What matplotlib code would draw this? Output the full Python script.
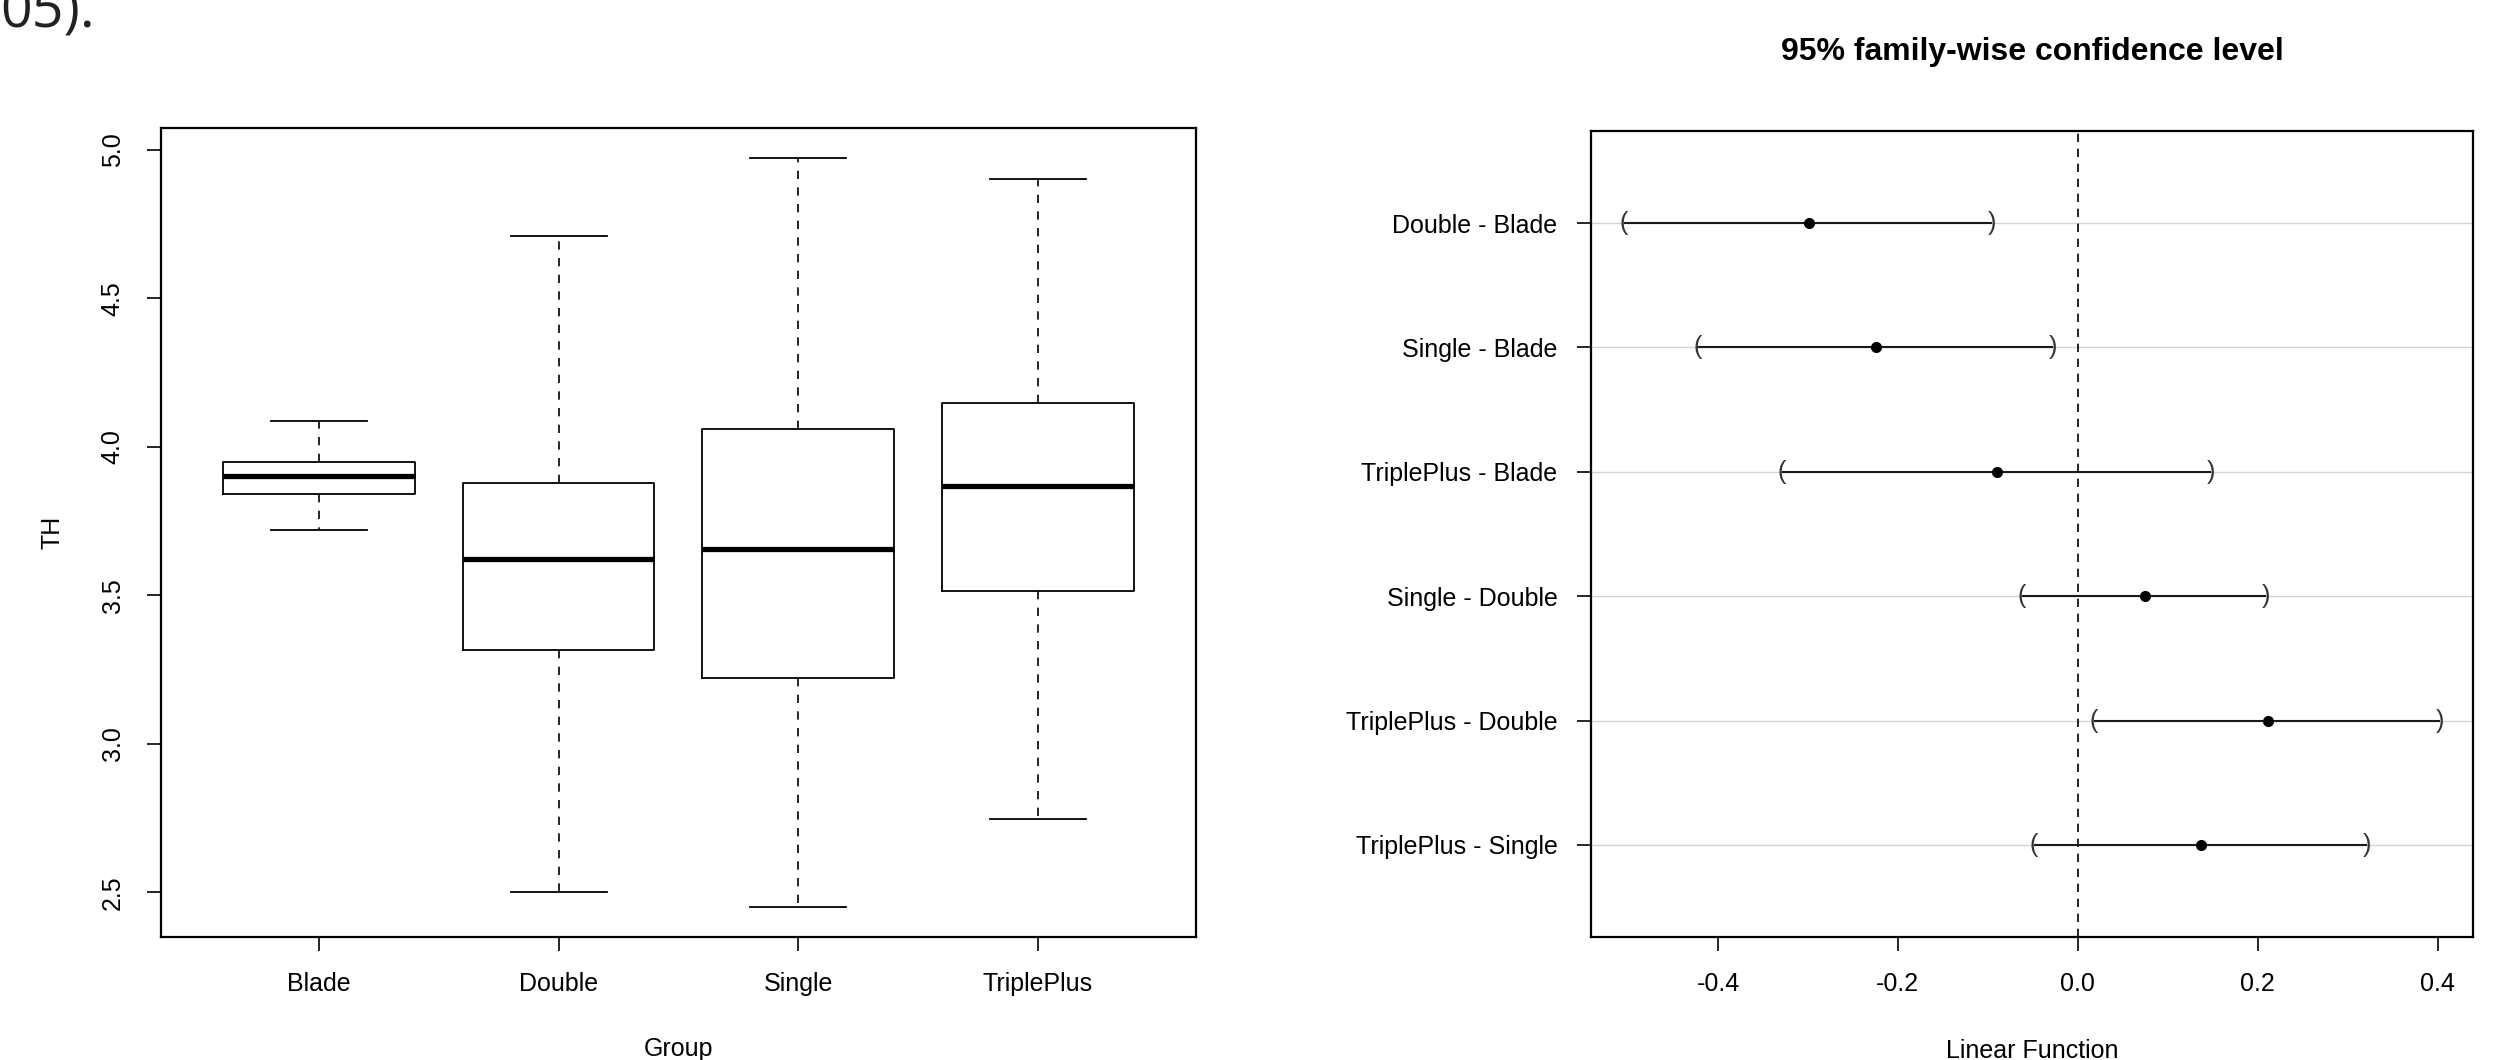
import matplotlib.pyplot as plt
import matplotlib.transforms as mtransforms
import numpy as np

plt.rcParams['font.family'] = ['Liberation Sans', 'DejaVu Sans']
plt.rcParams['axes.unicode_minus'] = False

# boxplot of TH by group
groups = ['Blade', 'Double', 'Single', 'TriplePlus']
whisker_low = [3.72, 2.50, 2.45, 2.745]
box_low = [3.84, 3.316, 3.222, 3.514]
medians = [3.90, 3.622, 3.657, 3.868]
box_high = [3.947, 3.877, 4.061, 4.147]
whisker_high = [4.085, 4.709, 4.972, 4.900]
th_ticks = [2.5, 3.0, 3.5, 4.0, 4.5, 5.0]
th_labels = ['2.5', '3.0', '3.5', '4.0', '4.5', '5.0']

# Tukey HSD intervals
comparisons = ['Double - Blade', 'Single - Blade', 'TriplePlus - Blade',
               'Single - Double', 'TriplePlus - Double', 'TriplePlus - Single']
diff = [-0.299, -0.224, -0.090, 0.075, 0.211, 0.137]
lwr = [-0.505, -0.423, -0.329, -0.062, 0.018, -0.049]
upr = [-0.095, -0.028, 0.148, 0.209, 0.403, 0.321]
lf_ticks = [-0.4, -0.2, 0.0, 0.2, 0.4]
lf_labels = ['-0.4', '-0.2', '0.0', '0.2', '0.4']

fig = plt.figure(figsize=(25.03, 10.60), dpi=100)

# stray text from the page above, cut off at the top
fig.text(0.0, 1 - 28 / 1060, '05).', fontsize=40, family='Open Sans',
         va='baseline', ha='left', color='#222222')

# ---- left: boxplot ----
ax1 = fig.add_axes([0.0643, 0.1160, 0.4135, 0.7632])
stats = []
for i in range(len(groups)):
    stats.append({'label': groups[i], 'whislo': whisker_low[i], 'q1': box_low[i],
                  'med': medians[i], 'q3': box_high[i], 'whishi': whisker_high[i],
                  'fliers': []})
pos = np.arange(1, len(groups) + 1)
ax1.bxp(stats, positions=pos, widths=0.8, capwidths=0.4, showfliers=False,
        boxprops=dict(color='black', linewidth=1.3),
        medianprops=dict(color='black', linewidth=3.8, solid_capstyle='butt'),
        whiskerprops=dict(color='black', linewidth=1.2, linestyle=(0, (5, 5))),
        capprops=dict(color='black', linewidth=1.3))

lo, hi = min(whisker_low), max(whisker_high)
ax1.set_ylim(lo - 0.04 * (hi - lo), hi + 0.04 * (hi - lo))
n = len(groups)
ax1.set_xlim(0.5 - 0.04 * n, n + 0.5 + 0.04 * n)
ax1.set_xticks(pos)
ax1.set_xticklabels(groups)
ax1.set_yticks(th_ticks)
ax1.set_yticklabels(th_labels, rotation=90, va='center')
ax1.tick_params(axis='x', direction='out', length=10, width=1.2, pad=15, labelsize=18)
ax1.tick_params(axis='y', direction='out', length=10, width=1.2, pad=16, labelsize=18)
ax1.set_xlabel('Group', fontsize=18, labelpad=30)
ax1.set_ylabel('TH', fontsize=18, labelpad=26)
for sp in ax1.spines.values():
    sp.set_linewidth(1.6)

# ---- right: Tukey HSD ----
ax2 = fig.add_axes([0.6356, 0.1160, 0.3524, 0.7604])
m = len(comparisons)
yvals = np.arange(m, 0, -1)
for y in yvals:
    ax2.axhline(y, color='#d3d3d3', linewidth=1.0, zorder=0)
ax2.axvline(0, color='black', linewidth=1.2, linestyle=(0, (5, 4)), zorder=1)
ax2.hlines(yvals, lwr, upr, color='#1a1a1a', linewidth=1.5, zorder=2)
ax2.plot(diff, yvals, 'o', color='black', markersize=7, zorder=3)
for i in range(m):
    ax2.text(lwr[i], yvals[i], '(', ha='center', va='center', fontsize=18, color='#333333')
    ax2.text(upr[i], yvals[i], ')', ha='center', va='center', fontsize=18, color='#333333')

lo, hi = min(lwr), max(upr)
ax2.set_xlim(lo - 0.04 * (hi - lo), hi + 0.04 * (hi - lo))
ax2.set_ylim(0.5 - 0.04 * m, m + 0.5 + 0.04 * m)
ax2.set_xticks(lf_ticks)
ax2.set_xticklabels(lf_labels)
ax2.set_yticks(yvals)
ax2.set_yticklabels(comparisons)
ax2.tick_params(axis='x', direction='out', length=10, width=1.2, pad=15, labelsize=18)
ax2.tick_params(axis='y', direction='out', length=10, width=1.2, pad=14, labelsize=18)
ax2.set_xlabel('Linear Function', fontsize=18, labelpad=31)
for sp in ax2.spines.values():
    sp.set_linewidth(1.6)

trans = mtransforms.blended_transform_factory(ax2.transAxes, fig.transFigure)
ax2.text(0.5, 1 - 60 / 1060, '95% family-wise confidence level', transform=trans,
         ha='center', va='baseline', fontsize=23, fontweight='bold')

fig.savefig('out.png', dpi=100)
